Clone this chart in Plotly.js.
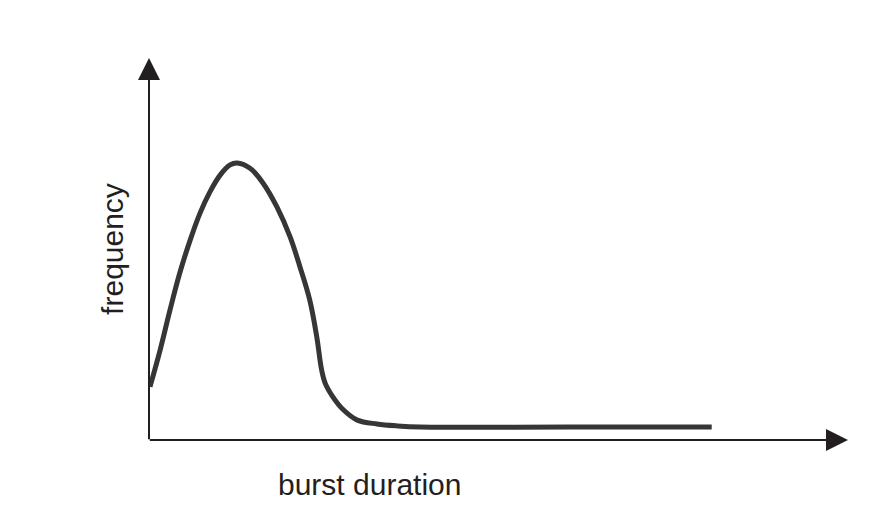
<!DOCTYPE html>
<html>
<head>
<meta charset="utf-8">
<script src="https://cdn.plot.ly/plotly-3.0.1.min.js"></script>
<style>html,body{margin:0;padding:0;background:#fff;}#chart{width:882px;height:521px;}</style>
</head>
<body>
<div id="chart"></div>
<script>
// burst duration (arbitrary units) and frequency (arbitrary units)
const burstDuration = [0.14, 1.6, 3.0, 4.4, 5.9, 7.3, 8.7, 10.2, 11.6, 12.6, 14.4, 16.3, 18.3, 20.2, 21.6, 23.0, 24.0, 24.7, 25.2, 26.3, 27.8, 29.8, 32.6, 35.5, 38.8, 60.0, 80.5];
const frequency     = [13.9, 23.6, 34.0, 43.7, 52.4, 59.4, 64.9, 69.4, 72.0, 72.5, 71.2, 67.3, 61.0, 53.1, 45.3, 36.6, 27.0, 18.3, 14.9, 11.3, 7.9, 5.2, 4.2, 3.7, 3.4, 3.4, 3.4];
const xLabel = "burst duration";
const yLabel = "frequency";

const trace = {
  x: burstDuration,
  y: frequency,
  mode: "lines",
  line: {color: "#363636", width: 5, shape: "spline", smoothing: 1, simplify: false},
  hoverinfo: "skip"
};

const plotW = 882 - 149 - 34, plotH = 521 - 58 - 81;
const labelFont = {family: "Liberation Sans, Arial, sans-serif", size: 30, color: "#231f20"};

const layout = {
  width: 882, height: 521,
  margin: {l: 149, r: 34, t: 58, b: 81},
  paper_bgcolor: "#fff", plot_bgcolor: "#fff",
  showlegend: false,
  xaxis: {range: [0, 100], showgrid: false, zeroline: false, showticklabels: false, ticks: "", showline: false, fixedrange: true},
  yaxis: {range: [0, 100], showgrid: false, zeroline: false, showticklabels: false, ticks: "", showline: false, fixedrange: true,
          title: {text: yLabel, font: labelFont, standoff: 15}},
  annotations: [
    {x: 0, y: 100, ax: 0, ay: -0.2, xref: "x", yref: "y", axref: "x", ayref: "y", text: "", showarrow: true,
     arrowhead: 2, arrowsize: 2.2, arrowwidth: 2, arrowcolor: "#231f20"},
    {x: 100, y: 0, ax: -0.1, ay: 0, xref: "x", yref: "y", axref: "x", ayref: "y", text: "", showarrow: true,
     arrowhead: 2, arrowsize: 2.2, arrowwidth: 2, arrowcolor: "#231f20"},
    {x: (369 - 149) / plotW, y: -(484 - 440) / plotH, xref: "paper", yref: "paper", xanchor: "center", yanchor: "middle",
     text: xLabel, showarrow: false, font: labelFont}
  ]
};

Plotly.newPlot("chart", [trace], layout, {displayModeBar: false, staticPlot: true});
</script>
</body>
</html>
